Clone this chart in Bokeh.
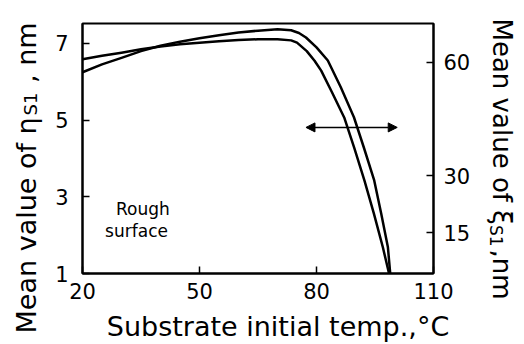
from math import pi
from bokeh.plotting import figure
from bokeh.models import Range1d, LinearAxis, Label, Arrow, NormalHead, FixedTicker
from bokeh.embed import file_html
from bokeh.resources import INLINE

# --- data ---
temp_eta = [20, 25, 30, 35, 40, 45, 50, 55, 60, 65, 70, 73.5, 75, 77.5, 79.5,
            81.2, 84, 87.1, 89.7, 92.3, 94.7, 97.0, 98.6]
eta_s1 = [6.59, 6.68, 6.76, 6.85, 6.92, 6.98, 7.02, 7.06, 7.09, 7.11, 7.11, 7.08, 7.02, 6.80, 6.55,
          6.29, 5.72, 5.07, 4.27, 3.42, 2.57, 1.69, 1.0]

temp_xi = [20, 25, 30, 35, 40, 45, 50, 55, 60, 65, 70, 73.5, 75.5, 77.3, 80,
           82.9, 86.2, 89.6, 92.2, 94.8, 96.6, 98.3, 98.9]
xi_s1 = [57.4, 59.5, 61.2, 63.0, 64.4, 65.5, 66.4, 67.2, 67.9, 68.4, 68.8, 68.5, 67.8, 66.6, 64.0,
         60.5, 53.5, 45.5, 37.3, 28.8, 20.0, 11.2, 4.2]

x_ticks = [20, 50, 80, 110]
eta_ticks = [1, 3, 5, 7]
xi_ticks = [15, 30, 60]

arrow_x = [77.3, 100.7]
arrow_eta = 4.81

FONT = "DejaVu Sans"
NB = "\u00a0"

p = figure(width=524, height=344, x_range=Range1d(20, 110), y_range=Range1d(1.0, 7.52),
           output_backend="svg", toolbar_location=None,
           min_border_left=81, min_border_right=91, min_border_top=23, min_border_bottom=71)
p.extra_y_ranges = {"xi": Range1d(4.17, 70.3)}

p.xgrid.visible = False
p.ygrid.visible = False
p.outline_line_color = "black"
p.outline_line_width = 2
p.background_fill_color = "white"
p.border_fill_color = "white"

right = LinearAxis(y_range_name="xi")
p.add_layout(right, "right")

for ax, ticks in ((p.xaxis[0], x_ticks), (p.yaxis[0], eta_ticks), (right, xi_ticks)):
    ax.ticker = FixedTicker(ticks=ticks)
    ax.minor_tick_line_color = None
    ax.major_tick_in = 7
    ax.major_tick_out = 0
    ax.major_tick_line_width = 1.5
    ax.axis_line_width = 2
    ax.major_label_text_font = FONT
    ax.major_label_text_font_size = "21px"
    ax.major_label_text_color = "black"

p.xaxis.major_label_standoff = 9
p.yaxis[0].major_label_standoff = 14
right.major_label_standoff = 10

p.line(temp_eta, eta_s1, line_color="black", line_width=2.5, line_join="round")
p.line(temp_xi, xi_s1, y_range_name="xi", line_color="black", line_width=2.5, line_join="round")

p.add_layout(Arrow(x_start=arrow_x[0], y_start=arrow_eta, x_end=arrow_x[1], y_end=arrow_eta,
                   line_width=1.5,
                   start=NormalHead(size=9, fill_color="black", line_width=1),
                   end=NormalHead(size=9, fill_color="black", line_width=1)))

p.add_layout(Label(x=28.6, y=2.43, text="Rough", text_font=FONT, text_font_size="17px", text_color="black"))
p.add_layout(Label(x=25.8, y=1.86, text="surface", text_font=FONT, text_font_size="17px", text_color="black"))

def lab(side, x, y, text, size, angle=0, align="left"):
    p.add_layout(Label(x=x, y=y, x_units="screen", y_units="screen", text=text,
                       text_font=FONT, text_font_size=size, angle=angle,
                       text_align=align, text_baseline="alphabetic", text_color="black"), side)

# bottom title
lab("below", 195.5, 6, "Substrate initial temp.,\u00b0C", "27px", align="center")
# left title (subscript drawn as a separate smaller label in the gap)
lab("left", 4.7, -60, "Mean value of \u03b7" + NB * 4 + "," + NB + "nm", "27px", angle=pi / 2)
lab("left", 29.7, 158, "S1", "18px", angle=pi / 2)
# right title
lab("right", 28.6, 255, "Mean value of \u03be" + NB * 3 + ",nm", "26px", angle=-pi / 2)
lab("right", -7.4, 48.6, "S1", "17px", angle=-pi / 2)

open("out.html", "w").write(file_html(p, INLINE))
